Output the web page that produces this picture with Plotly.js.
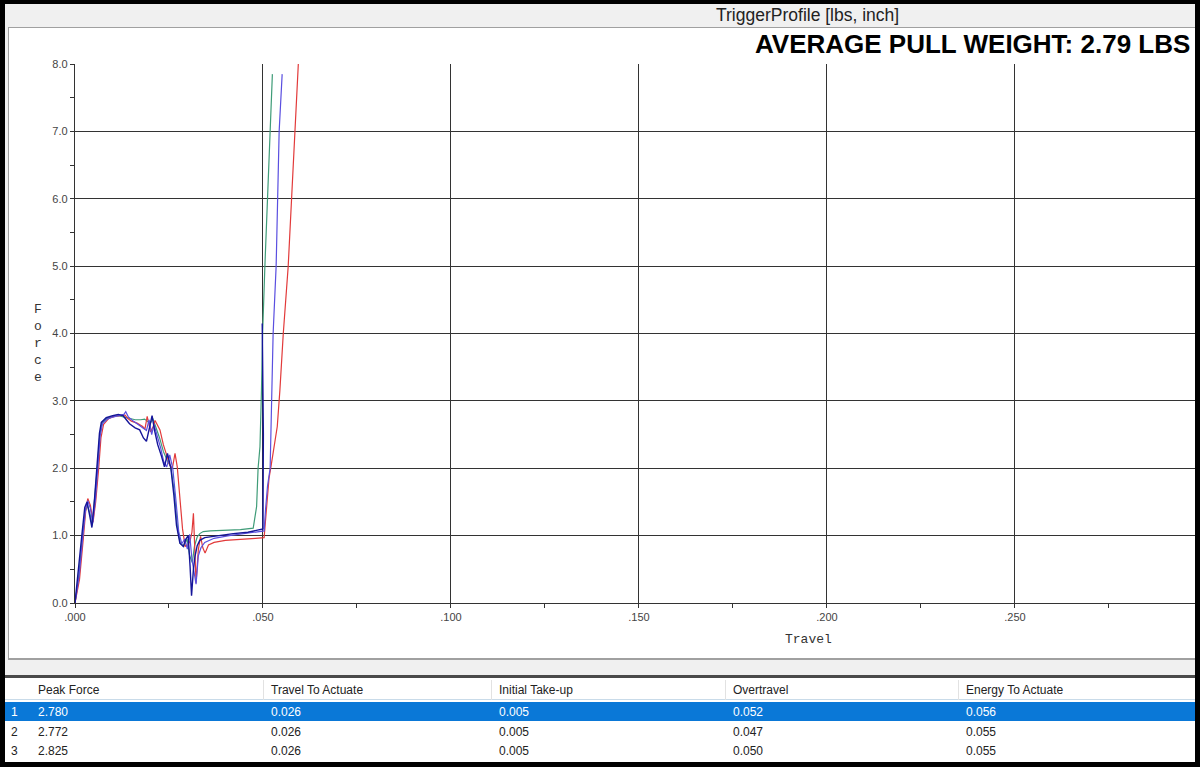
<!DOCTYPE html>
<html>
<head>
<meta charset="utf-8">
<script src="https://cdn.plot.ly/plotly-3.0.1.min.js"></script>
<style>
  html, body { margin: 0; padding: 0; background: #000; width: 1200px; height: 767px; overflow: hidden; }
  #frame { position: absolute; left: 5px; top: 4px; width: 1190px; height: 758px; background: #f0f0f0; }
  #titlebar { position: absolute; left: 5px; top: 4px; width: 1190px; height: 23px; font-family: "Liberation Sans", Arial, sans-serif; font-size: 17.5px; color: #222; }
  #titlebar span { position: absolute; left: 711px; top: 1px; }
  #panel { position: absolute; left: 8px; top: 27px; width: 1187px; height: 633px; background: #fff; border-top: 1px solid #a0a0a0; border-left: 1px solid #a0a0a0; border-bottom: 2px solid #a0a0a0; box-sizing: border-box; }
  #chart { position: absolute; left: 8px; top: 27px; width: 1187px; height: 633px; }
  #sep { position: absolute; left: 5px; top: 675px; width: 1190px; height: 3px; background: #4a4a4a; }
  #table { position: absolute; left: 5px; top: 678px; width: 1190px; height: 84px; background: #fff; font-family: "Liberation Sans", Arial, sans-serif; font-size: 12px; color: #222; }
  .row { position: absolute; left: 0; width: 1190px; height: 19px; line-height: 19px; }
  .row.hdr { border-bottom: 1px solid #c9dbe9; }
  .row.sel { background: #0a78d7; color: #fff; }
  .cell { position: absolute; top: 1px; white-space: nowrap; }
  .vsep { position: absolute; top: 0; width: 1px; height: 20px; background: #e2e2e2; }
  #rborder { position: absolute; left: 1195px; top: 0; width: 5px; height: 767px; background: #000; }
  #bborder { position: absolute; left: 0; top: 762px; width: 1200px; height: 5px; background: #000; }
</style>
</head>
<body>
<div id="frame"></div>
<div id="titlebar"><span>TriggerProfile [lbs, inch]</span></div>
<div id="panel"></div>
<div id="chart"></div>
<div id="sep"></div>
<div id="table"></div>
<div id="rborder"></div>
<div id="bborder"></div>
<script>
// travel (inch) / force (lbs)
var redTravel = [0, .0012, .0022, .0029, .0034, .0041, .0048, .0055, .0063, .0069, .0076, .0090, .0105, .0120, .0133, .0140, .0150, .0165, .0180, .0186, .0192, .0201, .0208, .0213, .0220, .0226, .0235, .0244, .0252, .0259, .0266, .0272, .0278, .0286, .0293, .0300, .0306, .0311, .0315, .0318, .0322, .0328, .0334, .0340, .0346, .0355, .0370, .0400, .0440, .0480, .0503, .0507, .0511, .0516, .0522, .0532, .0538, .0545, .0554, .0567, .0576, .0585, .0594, .0602];
var redForce = [0, .35, .95, 1.40, 1.55, 1.45, 1.20, 1.50, 2.00, 2.45, 2.65, 2.74, 2.77, 2.78, 2.79, 2.74, 2.70, 2.67, 2.62, 2.58, 2.77, 2.54, 2.62, 2.71, 2.62, 2.57, 2.35, 2.17, 2.05, 2.00, 2.22, 2.02, 1.60, 1.10, 0.84, 0.86, 0.92, 1.05, 1.33, 0.95, 0.30, 0.79, 0.99, 0.82, 0.74, 0.86, 0.90, 0.93, 0.94, 0.96, 0.97, 1.23, 1.55, 1.85, 2.05, 2.42, 2.62, 3.16, 4.0, 4.99, 6.0, 7.0, 8.0, 8.4];

var greenTravel = [0, .0010, .0020, .0027, .0033, .0040, .0046, .0053, .0060, .0066, .0072, .0085, .0100, .0115, .0130, .0145, .0160, .0175, .0185, .0192, .0200, .0207, .0215, .0225, .0235, .0245, .0255, .0265, .0273, .0280, .0290, .0298, .0305, .0312, .0318, .0325, .0332, .0341, .0360, .0400, .0440, .0474, .0483, .0487, .0492, .0496, .0499, .0505, .0512, .0519, .0525];
var greenForce = [0, .40, 1.00, 1.35, 1.45, 1.32, 1.15, 1.55, 2.05, 2.50, 2.68, 2.74, 2.77, 2.78, 2.76, 2.73, 2.72, 2.72, 2.73, 2.70, 2.66, 2.74, 2.62, 2.45, 2.25, 2.12, 2.02, 1.60, 1.10, 0.88, 0.85, 0.95, 0.70, 0.60, 0.85, 0.98, 1.03, 1.06, 1.07, 1.08, 1.09, 1.11, 1.43, 2.0, 2.32, 3.16, 4.0, 4.99, 6.0, 7.0, 7.85];

var blueTravel = [0, .0011, .0021, .0028, .0034, .0041, .0047, .0054, .0061, .0067, .0073, .0086, .0100, .0118, .0130, .0135, .0142, .0155, .0170, .0180, .0190, .0197, .0204, .0210, .0218, .0228, .0236, .0244, .0252, .0260, .0268, .0276, .0284, .0292, .0299, .0305, .0311, .0317, .0322, .0328, .0335, .0345, .0370, .0410, .0450, .0490, .0503, .0507, .0512, .0519, .0523, .0527, .0535, .0539, .0543, .0551];
var blueForce = [0, .40, 1.00, 1.38, 1.52, 1.40, 1.18, 1.52, 2.02, 2.48, 2.66, 2.73, 2.76, 2.78, 2.80, 2.84, 2.76, 2.70, 2.64, 2.60, 2.56, 2.72, 2.50, 2.65, 2.50, 2.30, 2.10, 2.02, 2.20, 2.00, 1.55, 1.05, 0.88, 0.95, 0.80, 1.02, 0.65, 0.45, 0.28, 0.70, 0.82, 0.90, 0.96, 1.00, 1.03, 1.06, 1.07, 1.40, 1.73, 2.0, 3.0, 4.0, 5.0, 6.0, 7.0, 7.85];

var navyTravel = [0, .0009, .0019, .0026, .0032, .0039, .0045, .0052, .0059, .0065, .0070, .0083, .0100, .0115, .0128, .0136, .0145, .0160, .0172, .0182, .0190, .0198, .0205, .0212, .0220, .0230, .0238, .0246, .0255, .0263, .0270, .0279, .0288, .0295, .0301, .0306, .0310, .0315, .0319, .0325, .0332, .0345, .0377, .0421, .0460, .0483, .0500, .0501, .0499, .0498];
var navyForce = [0, .45, 1.05, 1.42, 1.50, 1.30, 1.12, 1.55, 2.05, 2.52, 2.68, 2.75, 2.78, 2.80, 2.78, 2.72, 2.66, 2.60, 2.57, 2.45, 2.40, 2.60, 2.78, 2.55, 2.35, 2.18, 2.02, 2.22, 2.00, 1.60, 1.15, 0.89, 0.84, 0.95, 1.00, 0.55, 0.11, 0.50, 0.69, 0.85, 0.93, 0.97, 1.00, 1.03, 1.05, 1.08, 1.10, 2.5, 3.5, 4.15];

var xTickVals = [0, .05, .1, .15, .2, .25];
var xTickText = ['.000', '.050', '.100', '.150', '.200', '.250'];

var tableHeaders = ['Peak Force', 'Travel To Actuate', 'Initial Take-up', 'Overtravel', 'Energy To Actuate'];
var peakForce = ['2.780', '2.772', '2.825'];
var travelToActuate = ['0.026', '0.026', '0.026'];
var initialTakeup = ['0.005', '0.005', '0.005'];
var overtravel = ['0.052', '0.047', '0.050'];
var energyToActuate = ['0.056', '0.055', '0.055'];

function line(x, y, color, w) {
    return { x: x, y: y, type: 'scatter', mode: 'lines', line: { color: color, width: w || 1.2 }, hoverinfo: 'skip' };
}

var data = [
    line(greenTravel, greenForce, '#3f9c78'),
    line(redTravel, redForce, '#e23a3a'),
    line(blueTravel, blueForce, '#5a4fe0'),
    line(navyTravel, navyForce, '#15159a', 1.4)
];

var monoFont = { family: '"Liberation Mono", "DejaVu Sans Mono", monospace', size: 13, color: '#333' };

var layout = {
    width: 1187,
    height: 633,
    margin: { l: 67, r: 0, t: 37, b: 57 },
    paper_bgcolor: 'rgba(0,0,0,0)',
    plot_bgcolor: '#fff',
    showlegend: false,
    font: { family: '"Liberation Sans", Arial, sans-serif', size: 11, color: '#444' },
    xaxis: {
        range: [0, 0.2979],
        tickmode: 'array',
        tickvals: xTickVals,
        ticktext: xTickText,
        showgrid: true, gridcolor: '#333', gridwidth: 1,
        showline: true, linecolor: '#333', linewidth: 1.2,
        ticks: 'outside', ticklen: 4, tickcolor: '#333',
        minor: { tickmode: 'array', tickvals: [.025, .075, .125, .175, .225, .275], ticks: 'outside', ticklen: 4, tickcolor: '#333', showgrid: false },
        zeroline: false, fixedrange: true
    },
    yaxis: {
        range: [0, 8],
        tickmode: 'linear', tick0: 0, dtick: 1,
        tickformat: '.1f',
        showgrid: true, gridcolor: '#333', gridwidth: 1,
        showline: true, linecolor: '#333', linewidth: 1.2,
        ticks: 'outside', ticklen: 4, tickcolor: '#333',
        minor: { dtick: 0.5, ticks: 'outside', ticklen: 4, tickcolor: '#333', showgrid: false },
        zeroline: false, fixedrange: true
    },
    annotations: [
        { text: 'AVERAGE PULL WEIGHT: 2.79 LBS', xref: 'paper', yref: 'paper', x: 1, y: 1, xanchor: 'right', yanchor: 'bottom',
          xshift: -3, yshift: 3, showarrow: false,
          font: { family: '"Liberation Sans", Arial, sans-serif', size: 26, color: '#000', weight: 'bold' } },
        { text: 'Travel', xref: 'paper', yref: 'paper', x: 0.6545, y: 0, yanchor: 'top', yshift: -27, showarrow: false, font: monoFont },
        { text: 'F<br>o<br>r<br>c<br>e', xref: 'paper', yref: 'paper', x: -0.0384, y: 0.482, showarrow: false, font: monoFont }
    ]
};

Plotly.newPlot('chart', data, layout, { staticPlot: true, displayModeBar: false });

// result table below the chart
var cols = [38, 271, 499, 733, 966];
var columns = [peakForce, travelToActuate, initialTakeup, overtravel, energyToActuate];
var table = document.getElementById('table');
var html = '<div class="row hdr" style="top:2px">';
tableHeaders.forEach(function(h, i) {
    html += '<span class="cell" style="left:' + (cols[i] - 5) + 'px">' + h + '</span>';
    if (i > 0) html += '<span class="vsep" style="left:' + (cols[i] - 13) + 'px"></span>';
});
html += '</div>';
peakForce.forEach(function(v, r) {
    html += '<div class="row' + (r === 0 ? ' sel' : '') + '" style="top:' + (24 + r * 19.5) + 'px">';
    html += '<span class="cell" style="left:6px">' + (r + 1) + '</span>';
    columns.forEach(function(col, i) {
        html += '<span class="cell" style="left:' + (cols[i] - 5) + 'px">' + col[r] + '</span>';
    });
    html += '</div>';
});
table.innerHTML = html;
</script>
</body>
</html>
